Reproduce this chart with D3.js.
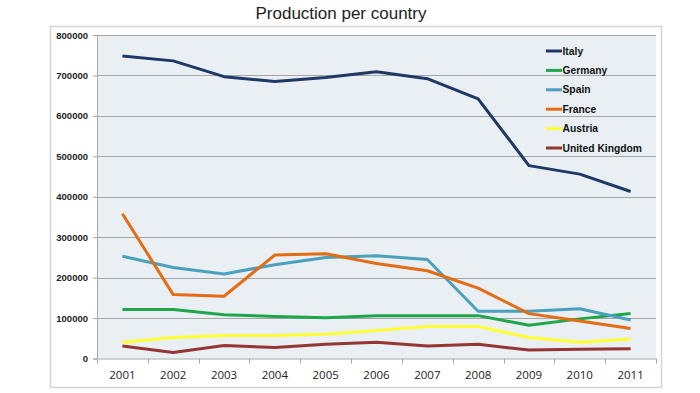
<!DOCTYPE html>
<html>
<head>
<meta charset="utf-8">
<script src="https://cdn.jsdelivr.net/npm/d3@7"></script>
<style>
  body { margin: 0; background: #fff; }
  svg { display: block; }
</style>
</head>
<body>
<div id="chart"></div>
<script>
var svgWidth = 700;
var svgHeight = 393;

// data
var years = ["2001", "2002", "2003", "2004", "2005", "2006", "2007", "2008", "2009", "2010", "2011"];
var countries = ["Italy", "Germany", "Spain", "France", "Austria", "United Kingdom"];
var italy   = [748000, 736000, 697000, 685000, 695000, 709000, 692000, 642000, 477000, 456000, 413000];
var germany = [121000, 121000, 108000, 104000, 101000, 106000, 106000, 106000, 82000, 98000, 111000];
var spain   = [253000, 225000, 209000, 232000, 250000, 254000, 245000, 117000, 117000, 123000, 95000];
var france  = [358000, 158000, 154000, 256000, 259000, 235000, 217000, 174000, 111000, 93000, 74000];
var austria = [40000, 52000, 57000, 57000, 60000, 69000, 79000, 79000, 52000, 40000, 48000];
var uk      = [31000, 15000, 32000, 27000, 35000, 40000, 31000, 35000, 21000, 23000, 24000];
var yTicks  = [0, 100000, 200000, 300000, 400000, 500000, 600000, 700000, 800000];

var seriesValues = [italy, germany, spain, france, austria, uk];
var colors = ["#1f3864", "#1fa64a", "#4aa0bd", "#e46c14", "#ffff33", "#943634"];

var plot = { left: 97, right: 656, top: 35, bottom: 358.5 };

var svg = d3.select("#chart")
  .append("svg")
  .attr("width", svgWidth)
  .attr("height", svgHeight);

// outer frame
svg.append("rect")
  .attr("x", 50.5)
  .attr("y", 26.5)
  .attr("width", 611)
  .attr("height", 361)
  .attr("fill", "#fff")
  .attr("stroke", "#d4d4d4")
  .attr("stroke-width", 1.5);

// title
svg.append("text")
  .attr("x", 341)
  .attr("y", 19)
  .attr("text-anchor", "middle")
  .style("font-family", "'Liberation Sans Narrow', 'Arial Narrow', sans-serif")
  .style("font-size", "17px")
  .attr("fill", "#222")
  .text("Production per country");

var xScale = d3.scaleBand()
  .domain(years)
  .range([plot.left, plot.right]);

var yScale = d3.scaleLinear()
  .domain([0, 800000])
  .range([plot.bottom, plot.top]);

// plot background
svg.append("rect")
  .attr("x", plot.left)
  .attr("y", plot.top)
  .attr("width", plot.right - plot.left)
  .attr("height", plot.bottom - plot.top)
  .attr("fill", "#e9eff3");

// gridlines
svg.append("g")
  .selectAll("line")
  .data(yTicks.slice(1))
  .enter()
  .append("line")
  .attr("x1", plot.left)
  .attr("x2", plot.right)
  .attr("y1", d => Math.round(yScale(d)) + 0.5)
  .attr("y2", d => Math.round(yScale(d)) + 0.5)
  .attr("stroke", "#a6a6a6")
  .attr("stroke-width", 1);

// y axis
var leftAxis = d3.axisLeft(yScale)
  .tickValues(yTicks)
  .tickFormat(d3.format("d"))
  .tickSize(4)
  .tickPadding(5);

var yAxis = svg.append("g")
  .attr("transform", `translate(${plot.left}, 0)`)
  .call(leftAxis);
yAxis.select(".domain").attr("stroke", "#a6a6a6");
yAxis.selectAll(".tick line").attr("stroke", "#a6a6a6");
yAxis.selectAll("text")
  .style("font-family", "'Liberation Sans', Arial, sans-serif")
  .style("font-size", "9.5px")
  .style("font-weight", "bold")
  .attr("fill", "#222");

// x axis with ticks between categories
var bottomAxis = d3.axisBottom(xScale)
  .tickSize(0)
  .tickPadding(12);

var xAxis = svg.append("g")
  .attr("transform", `translate(0, ${plot.bottom})`)
  .call(bottomAxis);
xAxis.select(".domain").attr("stroke", "#a6a6a6");
xAxis.selectAll("text")
  .style("font-family", "'Open Sans', sans-serif")
  .style("font-size", "11.5px")
  .attr("fill", "#222");

xAxis.append("g")
  .selectAll("line")
  .data(years.concat(["end"]))
  .enter()
  .append("line")
  .attr("x1", (d, i) => Math.round(plot.left + i * xScale.step()) + 0.5)
  .attr("x2", (d, i) => Math.round(plot.left + i * xScale.step()) + 0.5)
  .attr("y1", 0)
  .attr("y2", 5)
  .attr("stroke", "#a6a6a6");

// lines
var line = d3.line()
  .x((d, i) => xScale(years[i]) + xScale.bandwidth() / 2)
  .y(d => yScale(d));

svg.append("g")
  .selectAll("path")
  .data(seriesValues)
  .enter()
  .append("path")
  .attr("d", d => line(d))
  .attr("fill", "none")
  .attr("stroke", (d, i) => colors[i])
  .attr("stroke-width", 3)
  .attr("stroke-linejoin", "round");

// legend
var legend = svg.append("g")
  .attr("transform", "translate(546, 51)");

var legendItems = legend.selectAll("g")
  .data(countries)
  .enter()
  .append("g")
  .attr("transform", (d, i) => `translate(0, ${i * 19.4})`);

legendItems.append("line")
  .attr("x1", 0)
  .attr("x2", 16)
  .attr("y1", 0)
  .attr("y2", 0)
  .attr("stroke", (d, i) => colors[i])
  .attr("stroke-width", 3);

legendItems.append("text")
  .attr("x", 16.5)
  .attr("y", 0)
  .attr("dy", "0.35em")
  .style("font-family", "'Liberation Sans', Arial, sans-serif")
  .style("font-size", "10.3px")
  .style("font-weight", "bold")
  .attr("fill", "#111")
  .text(d => d);
</script>
</body>
</html>
